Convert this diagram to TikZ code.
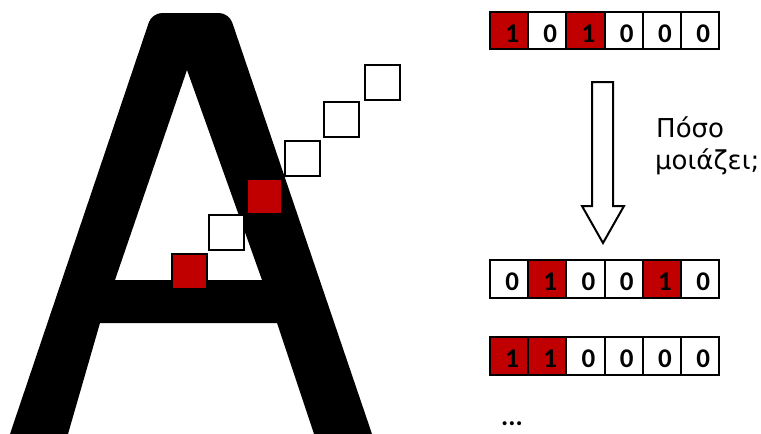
\documentclass[tikz,border=0pt]{standalone}
\usepackage{fontspec}
\setmainfont{Carlito}
\newfontfamily\greekfont{DejaVu Sans}
\definecolor{bitred}{RGB}{192,0,0}
\tikzset{
  letterA/.style={fill=black, even odd rule},
  sq/.style={draw=black, line width=2pt, minimum size=35pt, inner sep=0pt, fill=white},
  sqred/.style={sq, fill=bitred},
  cell/.style={draw=black, line width=2pt, minimum width=38.2pt, minimum height=37.5pt, inner sep=0pt, fill=white},
  cellred/.style={cell, fill=bitred},
  digit/.style={font=\fontsize{27}{27}\selectfont\bfseries, inner sep=0pt, anchor=base},
  bigarrow/.style={draw=black, line width=2pt, fill=white, line join=miter},
  greek/.style={font=\greekfont\fontsize{26}{32}\selectfont, inner sep=0pt, anchor=base west}
}
\begin{document}
\begin{tikzpicture}[x=1pt,y=-1pt]
\useasboundingbox (0,0) rectangle (761,434);
% Letter A
\fill[letterA]
  (10,434) [rounded corners=10pt] -- (152,13) -- (229,13) [sharp corners]
  -- (372,434) -- (314,434) -- (277,323) -- (100,323) -- (68,434) -- cycle
  (187,70) -- (262,280) -- (115,280) -- cycle;
% diagonal squares
\node[sq]    (s2) at (226,232.5) {};
\node[sq]    (s4) at (302,158.5) {};
\node[sq]    (s5) at (341.5,119.5) {};
\node[sq]    (s6) at (382,82) {};
\node[sqred] (s1) at (189.5,271) {};
\node[sqred] (s3) at (264,196) {};
% bit strips
\foreach \row/\yc/\bits in {a/30.5/{1,0,1,0,0,0}, b/279/{0,1,0,0,1,0}, c/356/{1,1,0,0,0,0}}{
  \foreach \b [count=\i] in \bits {
    \pgfmathsetmacro{\xc}{490+38.2*(\i-0.5)}
    \ifnum\b=1
      \node[cellred] (\row\i) at (\xc,\yc) {};
    \else
      \node[cell] (\row\i) at (\xc,\yc) {};
    \fi
    \node[digit] (d\row\i) at ([xshift=3pt,yshift=-11.5pt]\row\i.center) {\b};
  }
}
% arrow
\draw[bigarrow] (592,82) -- (613,82) -- (613,206) -- (624,206) -- (603,243) -- (582,206) -- (592,206) -- cycle;
% text
\node[greek] (q1) at (656,137) {Πόσο};
\node[greek] (q2) at (655,169) {μοιάζει;};
\node[digit, anchor=base west] (dots) at (501,425) {...};
\end{tikzpicture}
\end{document}
